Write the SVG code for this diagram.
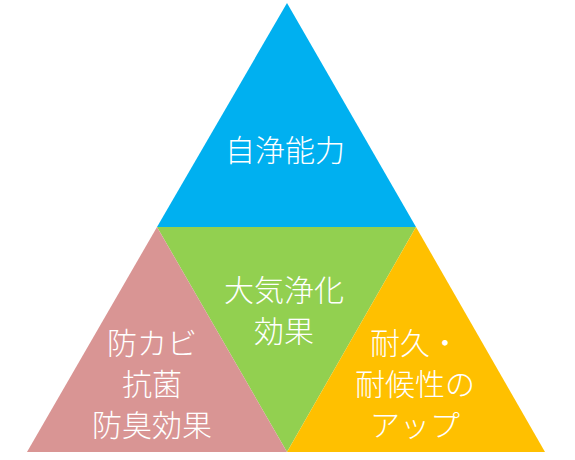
<svg xmlns="http://www.w3.org/2000/svg" width="575" height="460" viewBox="0 0 575 460">
<style>
text{font-family:"Noto Sans CJK JP","Noto Sans",sans-serif;font-size:30px;font-weight:300;fill:#fff;text-anchor:middle}
</style>
<rect width="575" height="460" fill="#fff"/>
<g id="top"><polygon points="287,3 416,227 157,227" fill="#00B0F0"/><text x="285" y="161">自浄能力</text></g>
<g id="center"><polygon points="157,227 416,227 287,452" fill="#92D050"/><text x="284" y="301">大気浄化</text><text x="284" y="342">効果</text></g>
<g id="left"><polygon points="157,227 287,452 27,452" fill="#D99594"/><text x="152" y="354">防カビ</text><text x="152" y="395">抗菌</text><text x="152" y="436">防臭効果</text></g>
<g id="right"><polygon points="416,227 545,452 287,452" fill="#FFC000"/><text x="415" y="354">耐久・</text><text x="415" y="395">耐候性の</text><text x="415" y="436">アップ</text></g>
<g id="connectors"/>
</svg>
